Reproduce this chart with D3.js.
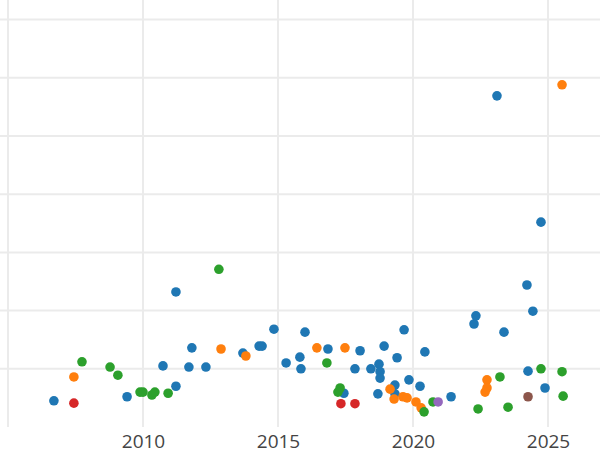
<!DOCTYPE html>
<html>
<head>
<meta charset="utf-8">
<script src="https://cdn.jsdelivr.net/npm/d3@7"></script>
<style>
  html, body { margin: 0; padding: 0; background: #fff; }
  svg { display: block; }
</style>
</head>
<body>
<svg id="chart" width="600" height="450"></svg>
<script>
// ---- data (year, value) per series ----
const seriesNames = ["A", "B", "C", "D", "E", "F"];
const seriesColors = ["#1f77b4", "#ff7f0e", "#2ca02c", "#d62728", "#9467bd", "#8c564b"];

const seriesA = [
  [2006.70, 0.45], [2009.41, 0.52], [2010.74, 1.05], [2011.22, 0.70], [2011.22, 2.32],
  [2011.70, 1.03], [2011.81, 1.36], [2012.33, 1.03], [2013.70, 1.27], [2014.30, 1.39],
  [2014.41, 1.39], [2014.85, 1.68], [2015.30, 1.10], [2015.81, 1.20], [2015.85, 1.00],
  [2016.00, 1.63], [2016.85, 1.34], [2017.44, 0.58], [2017.85, 1.00], [2018.04, 1.31],
  [2018.44, 1.00], [2018.74, 1.08], [2018.78, 0.95], [2018.78, 0.84], [2018.70, 0.57],
  [2018.93, 1.39], [2019.33, 0.72], [2019.33, 0.57], [2019.41, 1.19], [2019.67, 1.67],
  [2019.85, 0.81], [2020.26, 0.70], [2020.44, 1.29], [2021.41, 0.52], [2022.26, 1.77],
  [2022.33, 1.91], [2023.11, 5.69], [2023.37, 1.63], [2024.22, 2.44], [2024.26, 0.96],
  [2024.44, 1.99], [2024.74, 3.52], [2024.89, 0.67]
];
const seriesB = [
  [2007.44, 0.86], [2012.89, 1.34], [2013.81, 1.22], [2016.44, 1.36], [2017.48, 1.36],
  [2019.15, 0.65], [2019.30, 0.48], [2019.63, 0.52], [2019.78, 0.50], [2020.11, 0.43],
  [2020.30, 0.33], [2022.74, 0.81], [2022.74, 0.67], [2022.67, 0.60], [2025.52, 5.88]
];
const seriesC = [
  [2007.74, 1.12], [2008.78, 1.03], [2009.07, 0.89], [2009.89, 0.60], [2010.00, 0.60],
  [2010.33, 0.55], [2010.44, 0.60], [2010.93, 0.58], [2012.81, 2.71], [2016.81, 1.10],
  [2017.30, 0.67], [2017.22, 0.60], [2020.41, 0.26], [2020.74, 0.43], [2022.41, 0.31],
  [2023.22, 0.86], [2023.52, 0.34], [2024.74, 1.00], [2025.52, 0.95], [2025.56, 0.53]
];
const seriesD = [[2007.44, 0.41], [2017.33, 0.40], [2017.85, 0.40]];
const seriesE = [[2020.93, 0.43]];
const seriesF = [[2024.26, 0.52]];

const xGridYears = [2005, 2010, 2015, 2020, 2025];
const xTickLabels = ["2010", "2015", "2020", "2025"];
const yGridValues = [1, 2, 3, 4, 5, 6, 7];

// ---- layout ----
const W = 600, H = 450;
const plot = { left: 0, right: 600, top: 0, bottom: 427 };

const x = d3.scaleLinear().domain([2004.7037, 2026.9259]).range([plot.left, plot.right]);
const y = d3.scaleLinear().domain([0, 7.3368]).range([plot.bottom, plot.top]);

const svg = d3.select("#chart");

// grid
const grid = svg.append("g");
grid.selectAll("line.h").data(yGridValues).join("line")
  .attr("x1", plot.left).attr("x2", plot.right)
  .attr("y1", d => y(d)).attr("y2", d => y(d))
  .attr("stroke", "#ebebeb").attr("stroke-width", 2);
grid.selectAll("line.v").data(xGridYears).join("line")
  .attr("x1", d => x(d)).attr("x2", d => x(d))
  .attr("y1", plot.top).attr("y2", plot.bottom)
  .attr("stroke", "#ebebeb").attr("stroke-width", 2);

// x axis labels via d3 axis
const xAxis = d3.axisBottom(x)
  .tickValues(xTickLabels.map(Number))
  .tickFormat(d3.format("d"))
  .tickSize(0).tickPadding(0);
const gx = svg.append("g").attr("transform", `translate(0,${plot.bottom})`).call(xAxis);
gx.select(".domain").remove();
gx.selectAll("text")
  .attr("font-family", "'Open Sans', sans-serif")
  .attr("font-size", 19)
  .attr("fill", "#444")
  .attr("dy", null)
  .attr("y", 20.5);

// points
const allSeries = [seriesA, seriesB, seriesC, seriesD, seriesE, seriesF];
const pts = svg.append("g");
allSeries.forEach((s, i) => {
  pts.append("g").selectAll("circle").data(s).join("circle")
    .attr("cx", d => x(d[0]))
    .attr("cy", d => y(d[1]))
    .attr("r", 4.8)
    .attr("fill", seriesColors[i]);
});
</script>
</body>
</html>
